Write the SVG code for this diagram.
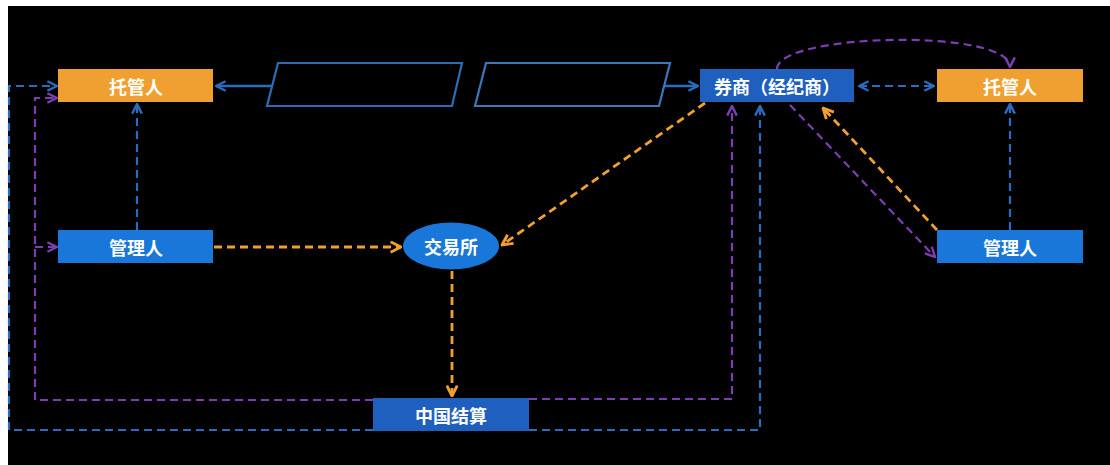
<svg xmlns="http://www.w3.org/2000/svg" width="1110" height="465" viewBox="0 0 1110 465">
<style>
.lbl{font-family:"Noto Sans CJK SC","Noto Sans",sans-serif;font-size:18px;font-weight:bold;fill:#ffffff;text-anchor:middle;dominant-baseline:central}
.or{fill:#f0a030}
.bd{fill:#1f5fbd}
.bl{fill:#1877d8}
.c{fill:none;stroke-width:2.2}
.sb{stroke:#2a6cc0;stroke-width:2.5}
.db{stroke:#2a6cc0;stroke-dasharray:8 5}
.dp{stroke:#7d3db5;stroke-dasharray:8 5}
.do{stroke:#f0a030;stroke-dasharray:8 5;stroke-width:2.8}
.para{fill:none;stroke:#2d6db5;stroke-width:2.2}
</style>
<defs>
<marker id="ab" viewBox="0 0 10 10" refX="9" refY="5" markerWidth="12" markerHeight="12" markerUnits="userSpaceOnUse" orient="auto-start-reverse"><path d="M1,1 L9,5 L1,9" fill="none" stroke="#2a6cc0" stroke-width="2"/></marker>
<marker id="ap" viewBox="0 0 10 10" refX="9" refY="5" markerWidth="12" markerHeight="12" markerUnits="userSpaceOnUse" orient="auto"><path d="M1,1 L9,5 L1,9" fill="none" stroke="#7d3db5" stroke-width="2"/></marker>
<marker id="ao" viewBox="0 0 10 10" refX="9" refY="5" markerWidth="13" markerHeight="13" markerUnits="userSpaceOnUse" orient="auto"><path d="M1,1 L9,5 L1,9" fill="none" stroke="#f0a030" stroke-width="2.2"/></marker>
</defs>
<rect x="0" y="0" width="1110" height="465" fill="#ffffff"/>
<rect x="8" y="6" width="1102" height="459" fill="#000000"/>
<g id="connectors">
<line class="c sb" x1="272" y1="86" x2="216" y2="86" marker-end="url(#ab)"/>
<line class="c sb" x1="664" y1="86" x2="698" y2="86" marker-end="url(#ab)"/>
<line class="c db" x1="137" y1="230" x2="137" y2="104" marker-end="url(#ab)"/>
<line class="c db" x1="1010" y1="230" x2="1010" y2="104" marker-end="url(#ab)"/>
<line class="c db" x1="859" y1="86" x2="934" y2="86" marker-start="url(#ab)" marker-end="url(#ab)"/>
<path class="c dp" d="M777,69 C777,33 1010,28 1010,67" marker-end="url(#ap)"/>
<line class="c dp" x1="790" y1="105" x2="935" y2="257" marker-end="url(#ap)"/>
<line class="c do" x1="937" y1="230" x2="823" y2="108" marker-end="url(#ao)"/>
<line class="c do" x1="705" y1="103" x2="502" y2="245" marker-end="url(#ao)"/>
<line class="c do" x1="214" y1="247" x2="401" y2="247" marker-end="url(#ao)"/>
<line class="c do" x1="452" y1="271" x2="452" y2="396" marker-end="url(#ao)"/>
<path class="c dp" d="M373,400 H35 V98 H57" marker-end="url(#ap)"/>
<line class="c dp" x1="35" y1="247" x2="57" y2="247" marker-end="url(#ap)"/>
<path class="c db" d="M373,430 H9 V86 H57" marker-end="url(#ab)"/>
<path class="c dp" d="M529,399 H732 V106" marker-end="url(#ap)"/>
<path class="c db" d="M529,430 H760 V106" marker-end="url(#ab)"/>
</g>
<g id="para1"><polygon class="para" points="278,63 462,63 452,106 267,106"/></g>
<g id="para2"><polygon class="para" points="486,63 670,63 659,106 475,106" style="stroke:#3a78b8"/></g>
<g id="custodian-left"><rect class="or" x="58" y="69" width="155" height="33"/><text class="lbl" x="136" y="86">托管人</text></g>
<g id="manager-left"><rect class="bl" x="58" y="230" width="155" height="33"/><text class="lbl" x="136" y="247">管理人</text></g>
<g id="exchange"><ellipse class="bl" cx="451" cy="246" rx="48" ry="23.5"/><text class="lbl" x="451" y="246">交易所</text></g>
<g id="broker"><rect class="bd" x="700" y="69" width="154" height="33"/><text class="lbl" x="777" y="86">券商（经纪商）</text></g>
<g id="custodian-right"><rect class="or" x="937" y="69" width="146" height="33"/><text class="lbl" x="1010" y="86">托管人</text></g>
<g id="manager-right"><rect class="bl" x="937" y="230" width="146" height="33"/><text class="lbl" x="1010" y="247">管理人</text></g>
<g id="csdc"><rect class="bd" x="373" y="398" width="156" height="33"/><text class="lbl" x="451" y="415">中国结算</text></g>
</svg>
